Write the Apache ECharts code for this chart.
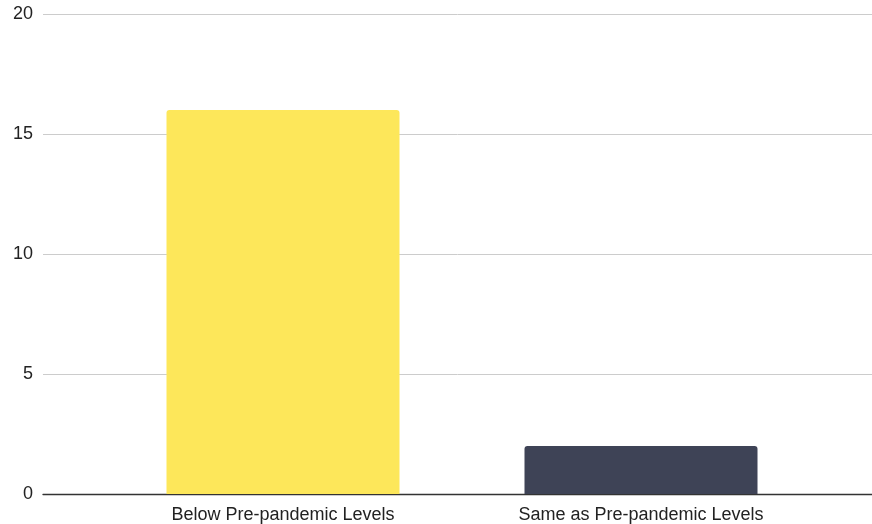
<!DOCTYPE html>
<html><head><meta charset="utf-8">
<script src="https://cdn.jsdelivr.net/npm/echarts@6/dist/echarts.min.js"></script>
<style>html,body{margin:0;padding:0;background:#fff}#c{width:872px;height:524px}</style>
</head><body><div id="c"></div>
<script>
const categories = ["Below Pre-pandemic Levels", "Same as Pre-pandemic Levels"];
const values = [16, 2];
const barColors = ["#FDE75A", "#3E4356"];
const yTicks = [0, 5, 10, 15, 20];

const chart = echarts.init(document.getElementById('c'), null, {renderer: 'canvas'});
const font = "'Liberation Sans', Arial, sans-serif";
chart.setOption({
  animation: false,
  grid: [
    {left: 43, right: 0, top: 14, bottom: 30},
    {left: 104, right: 52, top: 14, bottom: 30}
  ],
  xAxis: [
    {type: 'category', gridIndex: 0, data: [''], axisLine: {show: true, lineStyle: {color: '#333', width: 1.3}},
     axisTick: {show: false}, axisLabel: {show: false}},
    {type: 'category', gridIndex: 1, data: categories, axisLine: {show: false}, axisTick: {show: false},
     axisLabel: {color: '#222', fontFamily: font, fontSize: 18, margin: 12}}
  ],
  yAxis: [
    {type: 'value', gridIndex: 0, min: yTicks[0], max: yTicks[yTicks.length - 1], interval: 5,
     axisLine: {show: false}, axisTick: {show: false},
     axisLabel: {color: '#222', fontFamily: font, fontSize: 18, margin: 10},
     splitLine: {lineStyle: {color: '#cccccc', width: 1}}},
    {type: 'value', gridIndex: 1, min: 0, max: 20, interval: 5, show: false, splitLine: {show: false}}
  ],
  series: [{
    type: 'bar', xAxisIndex: 1, yAxisIndex: 1, barWidth: 233,
    data: values.map((v, i) => ({value: v, itemStyle: {color: barColors[i], borderRadius: [3, 3, 0, 0]}}))
  }]
});
</script></body></html>
